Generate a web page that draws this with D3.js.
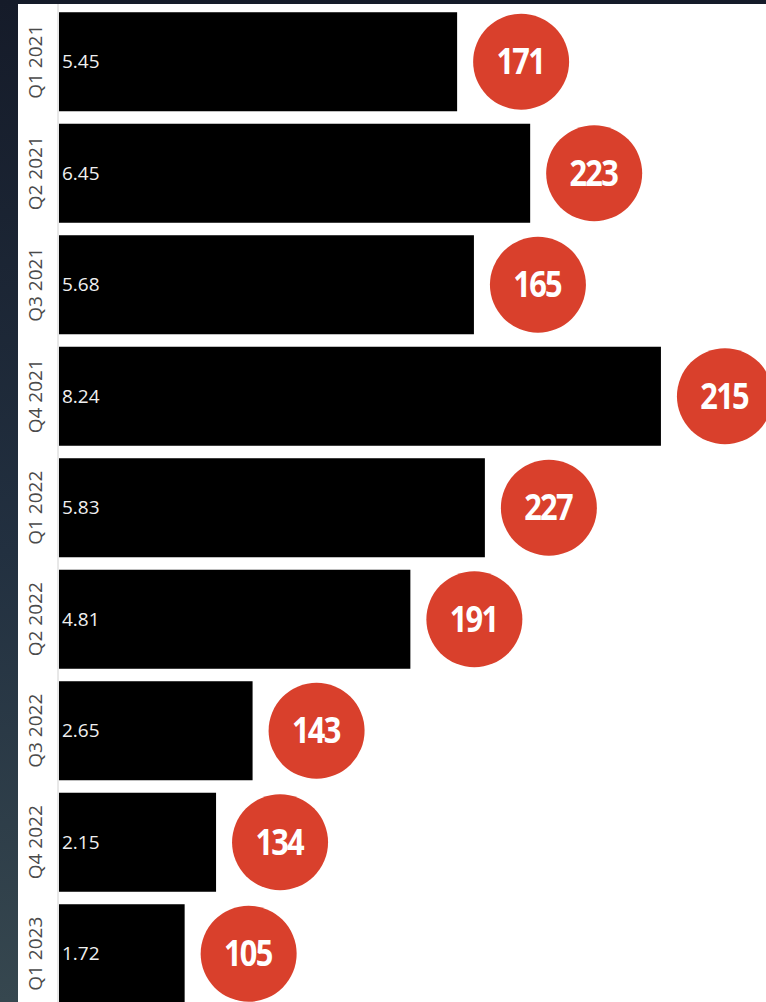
<!DOCTYPE html>
<html>
<head>
<meta charset="utf-8">
<script src="https://cdn.jsdelivr.net/npm/d3@7"></script>
<style>
  body { margin: 0; background: #1b2332; }
  svg { display: block; }
</style>
</head>
<body>
<div id="chart"></div>
<script>
// chart data
const quarters = ["Q1 2021", "Q2 2021", "Q3 2021", "Q4 2021", "Q1 2022", "Q2 2022", "Q3 2022", "Q4 2022", "Q1 2023"];
const barValues = [5.45, 6.45, 5.68, 8.24, 5.83, 4.81, 2.65, 2.15, 1.72];
const bubbleValues = [171, 223, 165, 215, 227, 191, 143, 134, 105];

const width = 766, height = 1002;
const panel = {left: 18, top: 4};
const margin = {left: 59, top: 6};

const svg = d3.select("#chart")
  .append("svg")
  .attr("width", width)
  .attr("height", height);

// dark background behind the white panel
const grad = svg.append("defs").append("linearGradient")
  .attr("id", "bg").attr("x1", 0).attr("y1", 0).attr("x2", 0).attr("y2", 1);
grad.append("stop").attr("offset", "0%").attr("stop-color", "#151b29");
grad.append("stop").attr("offset", "55%").attr("stop-color", "#223040");
grad.append("stop").attr("offset", "100%").attr("stop-color", "#36474f");

svg.append("rect")
  .attr("width", width).attr("height", height)
  .attr("fill", "url(#bg)");

svg.append("rect")
  .attr("x", panel.left).attr("y", panel.top)
  .attr("width", width - panel.left).attr("height", height - panel.top)
  .attr("fill", "#ffffff");

// scales
const x = d3.scaleLinear()
  .domain([0, 1])
  .range([margin.left, margin.left + 73.05]);

const y = d3.scaleBand()
  .domain(quarters)
  .range([margin.top, margin.top + 9 * 111.5])
  .paddingInner(0.112)
  .paddingOuter(0.056);

// axis line
svg.append("line")
  .attr("x1", margin.left - 1).attr("x2", margin.left - 1)
  .attr("y1", panel.top).attr("y2", height)
  .attr("stroke", "#d0d0d0").attr("stroke-width", 1);

// category labels, rotated
svg.append("g")
  .selectAll("text")
  .data(quarters)
  .join("text")
  .attr("transform", d => `translate(42, ${y(d) + y.bandwidth() / 2}) rotate(-90)`)
  .attr("text-anchor", "middle")
  .attr("font-family", "Open Sans, sans-serif")
  .attr("font-size", 19)
  .attr("fill", "#4a4a4a")
  .text(d => d);

const rows = quarters.map((q, i) => ({q: q, v: barValues[i], b: bubbleValues[i]}));

// bars
svg.append("g")
  .selectAll("rect")
  .data(rows)
  .join("rect")
  .attr("x", x(0))
  .attr("y", d => y(d.q))
  .attr("width", d => x(d.v) - x(0))
  .attr("height", y.bandwidth())
  .attr("fill", "#000000");

// values inside bars
svg.append("g")
  .selectAll("text")
  .data(rows)
  .join("text")
  .attr("x", x(0) + 3)
  .attr("y", d => y(d.q) + y.bandwidth() / 2)
  .attr("dy", "0.35em")
  .attr("font-family", "Open Sans, sans-serif")
  .attr("font-size", 19)
  .attr("fill", "#f0f0f0")
  .text(d => d.v.toFixed(2));

// red bubbles
const r = 48;
const bubbles = svg.append("g")
  .selectAll("g")
  .data(rows)
  .join("g")
  .attr("transform", d => `translate(${x(d.v) + 16 + r}, ${y(d.q) + y.bandwidth() / 2})`);

bubbles.append("circle")
  .attr("r", r)
  .attr("fill", "#d9402c");

bubbles.append("text")
  .attr("text-anchor", "middle")
  .attr("x", -1)
  .attr("dy", "0.36em")
  .attr("transform", "scale(0.88,1)")
  .attr("font-family", "Open Sans, sans-serif")
  .attr("font-weight", "bold")
  .attr("font-size", 35)
  .attr("letter-spacing", "-2px")
  .attr("fill", "#ffffff")
  .text(d => d.b);
</script>
</body>
</html>
